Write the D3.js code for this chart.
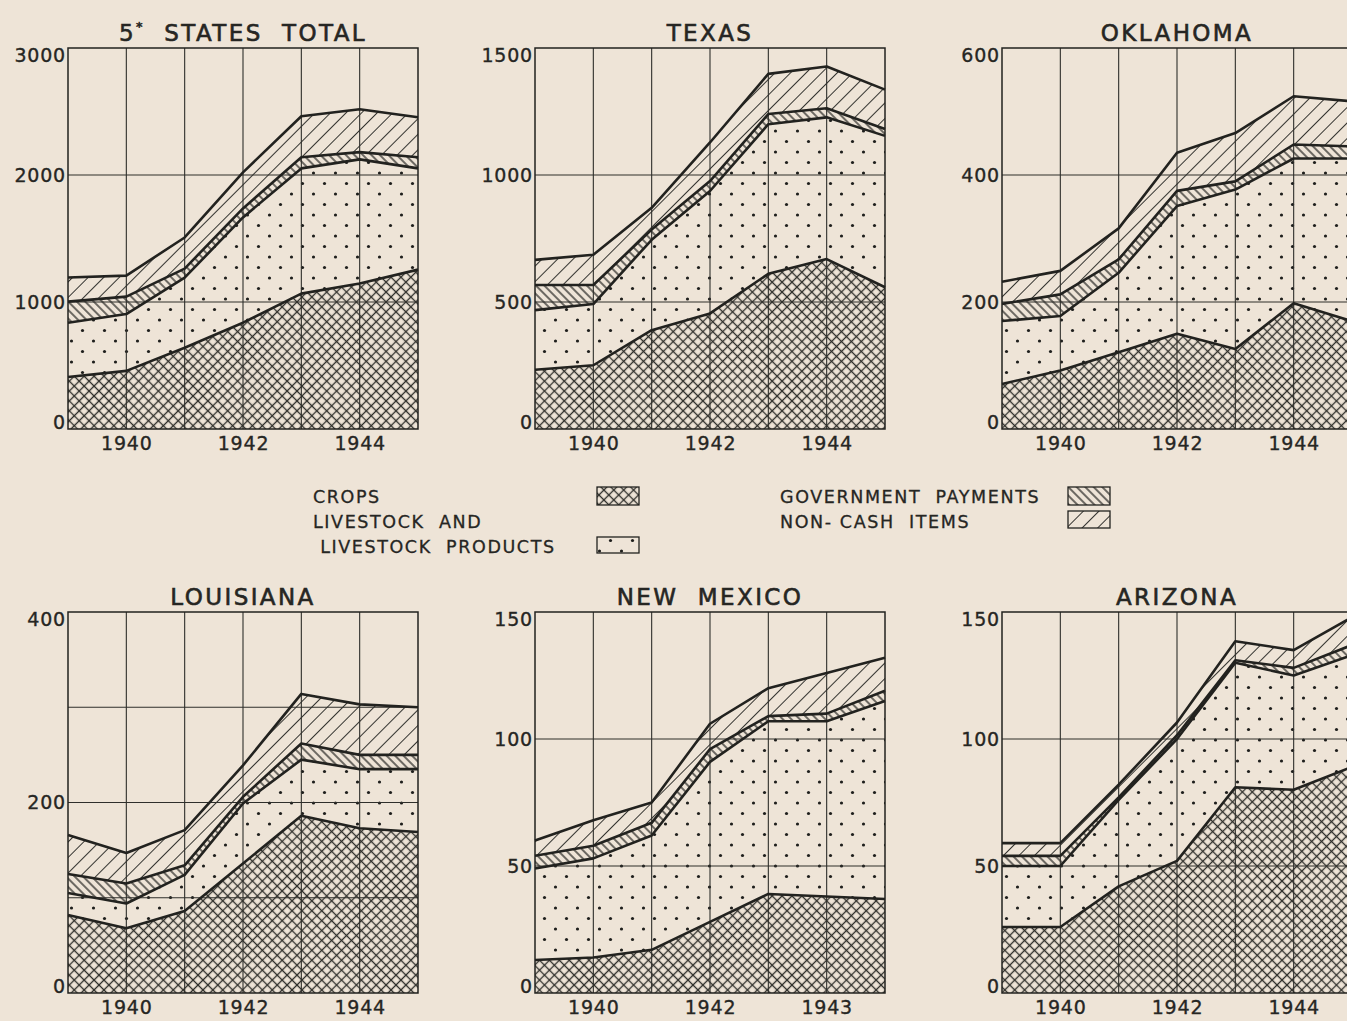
<!DOCTYPE html>
<html>
<head>
<meta charset="utf-8">
<script src="https://cdn.jsdelivr.net/npm/d3@7"></script>
<style>
  html, body { margin: 0; padding: 0; background: #eee4d7; }
  svg { display: block; }
  text { font-family: "DejaVu Sans", sans-serif; fill: #262623; }
</style>
</head>
<body>
<svg id="chart" width="1347" height="1021"></svg>
<script>
// Cash farm income by source, millions of dollars, 1939-1945
const years = [1939, 1940, 1941, 1942, 1943, 1944, 1945];
const seriesKeys = ["crops", "livestock", "government", "noncash"];

const totalCrops      = [410, 458, 640, 837, 1066, 1145, 1255];
const totalLivestock  = [427, 447, 552, 829, 986, 978, 797];
const totalGovernment = [166, 137, 71, 71, 88, 57, 88];
const totalNoncash    = [190, 166, 245, 284, 323, 338, 315];

const texasCrops      = [233, 251, 389, 455, 611, 669, 558];
const texasLivestock  = [235, 241, 356, 482, 589, 558, 596];
const texasGovernment = [99, 75, 40, 39, 40, 36, 27];
const texasNoncash    = [99, 119, 86, 152, 158, 164, 155];

const oklaCrops      = [71, 92, 121, 150, 126, 198, 170];
const oklaLivestock  = [99, 86, 125, 201, 251, 228, 256];
const oklaGovernment = [27, 34, 21, 24, 13, 22, 19];
const oklaNoncash    = [35, 37, 49, 60, 76, 76, 71];

const louCrops      = [82, 68, 86, 136, 186, 173, 169];
const louLivestock  = [23, 26, 38, 63, 59, 62, 66];
const louGovernment = [20, 21, 10, 7, 17, 15, 15];
const louNoncash    = [41, 32, 37, 33, 52, 53, 50];

const nmCrops      = [13, 14, 17, 28, 39, 38, 37];
const nmLivestock  = [36, 39, 45, 63, 68, 69, 78];
const nmGovernment = [5, 5, 5, 5, 2, 3, 4];
const nmNoncash    = [6, 10, 8, 10, 11, 16, 13];

const azCrops      = [26, 26, 42, 52, 81, 80, 89];
const azLivestock  = [24, 24, 34, 48, 49, 45, 44];
const azGovernment = [4, 4, 1, 1.5, 1, 3, 4];
const azNoncash    = [5, 5, 5, 5, 7.5, 7, 11];

// axis ticks
const xTickYears      = [1940, 1942, 1944];
const xTickLabels     = ["1940", "1942", "1944"];
const xTickLabelsNM   = ["1940", "1942", "1943"];
const yTicksTotal = [0, 1000, 2000, 3000];
const yTicksTexas = [0, 500, 1000, 1500];
const yTicksOkla  = [0, 200, 400, 600];
const yTicksLou   = [0, 200, 400];
const yGridLou    = [100, 200, 300];
const yTicksSmall = [0, 50, 100, 150];

const legendItems = [
  { key: "crops",      lines: ["CROPS"] },
  { key: "livestock",  lines: ["LIVESTOCK  AND", " LIVESTOCK  PRODUCTS"] },
  { key: "government", lines: ["GOVERNMENT  PAYMENTS"] },
  { key: "noncash",    lines: ["NON- CASH  ITEMS"] }
];

function rows(c, l, g, n) {
  return years.map((y, i) => ({ year: y, crops: c[i], livestock: l[i], government: g[i], noncash: n[i] }));
}

const panels = [
  { title: "STATES  TOTAL", prefix: "5", col: 0, row: 0, data: rows(totalCrops, totalLivestock, totalGovernment, totalNoncash),
    yMax: 3000, yTicks: yTicksTotal, yGrid: [1000, 2000], xLabels: xTickLabels },
  { title: "TEXAS", col: 1, row: 0, data: rows(texasCrops, texasLivestock, texasGovernment, texasNoncash),
    yMax: 1500, yTicks: yTicksTexas, yGrid: [500, 1000], xLabels: xTickLabels },
  { title: "OKLAHOMA", col: 2, row: 0, data: rows(oklaCrops, oklaLivestock, oklaGovernment, oklaNoncash),
    yMax: 600, yTicks: yTicksOkla, yGrid: [200, 400], xLabels: xTickLabels },
  { title: "LOUISIANA", col: 0, row: 1, data: rows(louCrops, louLivestock, louGovernment, louNoncash),
    yMax: 400, yTicks: yTicksLou, yGrid: yGridLou, xLabels: xTickLabels },
  { title: "NEW  MEXICO", col: 1, row: 1, data: rows(nmCrops, nmLivestock, nmGovernment, nmNoncash),
    yMax: 150, yTicks: yTicksSmall, yGrid: [50, 100], xLabels: xTickLabelsNM },
  { title: "ARIZONA", col: 2, row: 1, data: rows(azCrops, azLivestock, azGovernment, azNoncash),
    yMax: 150, yTicks: yTicksSmall, yGrid: [50, 100], xLabels: xTickLabels }
];

// layout
const colLeft = [68, 535, 1002];
const rowTop = [48, 612];
const plotW = 350, plotH = 381;
const ink = "#22221f";
const textInk = "#262623";

const svg = d3.select("#chart");
svg.append("rect").attr("width", 1347).attr("height", 1021).attr("fill", "#eee4d7");

// fill patterns
const defs = svg.append("defs");
const pCross = defs.append("pattern").attr("id", "pat-crops").attr("patternUnits", "userSpaceOnUse")
  .attr("width", 7).attr("height", 7).attr("patternTransform", "rotate(45)");
pCross.append("line").attr("x1", 0).attr("x2", 7).attr("y1", 3.5).attr("y2", 3.5).attr("stroke", "#2f2f2b").attr("stroke-width", 1.35);
pCross.append("line").attr("y1", 0).attr("y2", 7).attr("x1", 3.5).attr("x2", 3.5).attr("stroke", "#2f2f2b").attr("stroke-width", 1.35);

const pDots = defs.append("pattern").attr("id", "pat-livestock").attr("patternUnits", "userSpaceOnUse")
  .attr("width", 22).attr("height", 21);
pDots.append("circle").attr("cx", 5.5).attr("cy", 5).attr("r", 1.6).attr("fill", "#1e1e1c");
pDots.append("circle").attr("cx", 16.5).attr("cy", 15.5).attr("r", 1.6).attr("fill", "#1e1e1c");

const pGov = defs.append("pattern").attr("id", "pat-government").attr("patternUnits", "userSpaceOnUse")
  .attr("width", 6).attr("height", 6).attr("patternTransform", "rotate(-45)");
pGov.append("line").attr("x1", 3).attr("x2", 3).attr("y1", 0).attr("y2", 6).attr("stroke", "#262623").attr("stroke-width", 1.3);

const pNon = defs.append("pattern").attr("id", "pat-noncash").attr("patternUnits", "userSpaceOnUse")
  .attr("width", 11).attr("height", 11).attr("patternTransform", "rotate(45)");
pNon.append("line").attr("x1", 5.5).attr("x2", 5.5).attr("y1", 0).attr("y2", 11).attr("stroke", "#33332f").attr("stroke-width", 1);

const stack = d3.stack().keys(seriesKeys);

panels.forEach(p => {
  const left = colLeft[p.col], top = rowTop[p.row];
  const x = d3.scaleLinear().domain([1939, 1945]).range([left, left + plotW]);
  const y = d3.scaleLinear().domain([0, p.yMax]).range([top + plotH, top]);
  const g = svg.append("g");
  const layers = stack(p.data);

  const area = d3.area().x(d => x(d.data.year)).y0(d => y(d[0])).y1(d => y(d[1]));
  g.selectAll("path.layer").data(layers).join("path")
    .attr("class", "layer")
    .attr("d", area)
    .attr("fill", d => `url(#pat-${d.key})`);

  // grid
  g.selectAll("line.vgrid").data(years.slice(1, -1)).join("line")
    .attr("x1", d => x(d)).attr("x2", d => x(d))
    .attr("y1", top).attr("y2", top + plotH)
    .attr("stroke", "#2f2f2b").attr("stroke-width", 1.1);
  g.selectAll("line.hgrid").data(p.yGrid).join("line")
    .attr("x1", left).attr("x2", left + plotW)
    .attr("y1", d => y(d)).attr("y2", d => y(d))
    .attr("stroke", "#2f2f2b").attr("stroke-width", 1.1);

  // layer boundaries
  const line = d3.line().x(d => x(d.data.year)).y(d => y(d[1]));
  g.selectAll("path.edge").data(layers).join("path")
    .attr("class", "edge")
    .attr("d", line)
    .attr("fill", "none").attr("stroke", ink).attr("stroke-width", 2.6).attr("stroke-linejoin", "round");

  // frame
  g.append("rect").attr("x", left).attr("y", top).attr("width", plotW).attr("height", plotH)
    .attr("fill", "none").attr("stroke", ink).attr("stroke-width", 1.5);

  // axes
  const yAxis = d3.axisLeft(y).tickValues(p.yTicks).tickSize(0).tickPadding(2).tickFormat(d3.format("d"));
  const ya = g.append("g").attr("transform", `translate(${left},0)`).call(yAxis);
  ya.select(".domain").remove();
  ya.selectAll("text")
    .attr("font-size", 19).attr("letter-spacing", 0.8).attr("fill", textInk)
    .attr("stroke", textInk).attr("stroke-width", 0.35)
    .attr("font-family", "DejaVu Sans, sans-serif")
    .attr("dy", d => d === 0 ? "-0.05em" : (d === p.yMax ? "0.7em" : "0.32em"));

  const xAxis = d3.axisBottom(x).tickValues(xTickYears).tickSize(0).tickPadding(8)
    .tickFormat((d, i) => p.xLabels[i]);
  const xa = g.append("g").attr("transform", `translate(0,${top + plotH})`).call(xAxis);
  xa.select(".domain").remove();
  xa.selectAll("text")
    .attr("font-size", 19).attr("letter-spacing", 0.8).attr("fill", textInk)
    .attr("stroke", textInk).attr("stroke-width", 0.35)
    .attr("font-family", "DejaVu Sans, sans-serif");

  // title
  const t = g.append("text")
    .attr("x", left + plotW / 2).attr("y", top - 7)
    .attr("text-anchor", "middle").attr("font-size", 23).attr("letter-spacing", 2.4)
    .attr("stroke", textInk).attr("stroke-width", 0.6)
    .style("white-space", "pre");
  if (p.prefix) {
    t.append("tspan").text(p.prefix);
    t.append("tspan").text("*").attr("font-size", 13).attr("dy", -10);
    t.append("tspan").text("  " + p.title).attr("dy", 10);
  } else {
    t.text(p.title);
  }
});

// legend
const legendPos = {
  crops:      { tx: 313, ty: 503, bx: 597, by: 487, bh: 18 },
  livestock:  { tx: 313, ty: 528, bx: 597, by: 537, bh: 16 },
  government: { tx: 780, ty: 503, bx: 1068, by: 487, bh: 18 },
  noncash:    { tx: 780, ty: 528, bx: 1068, by: 511, bh: 17 }
};
const lg = svg.append("g");
legendItems.forEach(item => {
  const pos = legendPos[item.key];
  item.lines.forEach((ln, i) => {
    lg.append("text").attr("x", pos.tx).attr("y", pos.ty + i * 25)
      .attr("font-size", 17.5).attr("letter-spacing", 1.6)
      .attr("stroke", textInk).attr("stroke-width", 0.3)
      .style("white-space", "pre").text(ln);
  });
  lg.append("rect").attr("x", pos.bx).attr("y", pos.by).attr("width", 42).attr("height", pos.bh)
    .attr("fill", `url(#pat-${item.key})`).attr("stroke", ink).attr("stroke-width", 1.3);
});
</script>
</body>
</html>
